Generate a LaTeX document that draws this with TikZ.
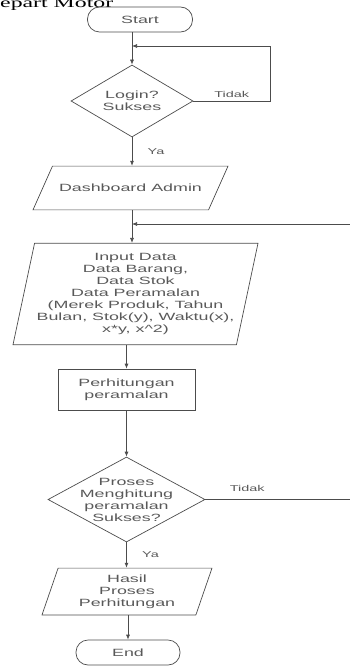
\documentclass[tikz,border=0pt]{standalone}
\usepackage{fontspec}
\setmainfont{Liberation Sans}[FakeStretch=1.7]
\newfontfamily\judulfont{Liberation Serif}[FakeStretch=1.7]
\usetikzlibrary{shapes.geometric,arrows.meta}

\tikzset{
  flowline/.style={draw=black!70, line width=0.7pt},
  arr/.style={flowline, -{Latex[length=5pt,width=4pt]}},
  box/.style={draw=black!70, line width=0.7pt, text=black!65, align=center, inner sep=0pt,
    font=\fontsize{10.5}{12}\selectfont},
  terminal/.style={box, rectangle, rounded corners=12pt, minimum height=25pt},
  decision/.style={box, diamond, shape aspect=1.8, inner sep=-8pt},
  io/.style={box, trapezium, trapezium stretches body},
  process/.style={box, rectangle},
  lbl/.style={text=black!65, font=\fontsize{8.5}{10}\selectfont}
}

\begin{document}
\begin{tikzpicture}[x=1pt,y=-1pt]
    \useasboundingbox (0,0) rectangle (350,666);

    \node[anchor=base west, inner sep=0pt, font={\judulfont\fontsize{14}{16}\selectfont}] (judul) at (0,8) {epart Motor};

    \node[terminal, minimum width=105pt] (start) at (140,19.5) {Start};
    \node[decision, minimum width=122pt, minimum height=72pt] (login) at (132,101) {Login?\\Sukses};
    \node[io, trapezium left angle=66, trapezium right angle=114, inner ysep=18pt, minimum width=195pt] (dash) at (130.5,188) {Dashboard Admin};
    \node[io, trapezium left angle=78, trapezium right angle=102, inner ysep=10pt, minimum width=245pt] (input) at (135.5,294)
        {Input Data\\Data Barang,\\Data Stok\\Data Peramalan\\(Merek Produk, Tahun\\Bulan, Stok(y), Waktu(x),\\x*y, x\textasciicircum 2)};
    \node[process, minimum width=137pt, minimum height=41pt] (proses) at (126.5,389.5) {Perhitungan\\peramalan};
    \node[decision, minimum width=157pt, minimum height=85pt] (cek) at (126.5,499.5) {Proses\\Menghitung\\peramalan\\Sukses?};
    \node[io, trapezium left angle=71, trapezium right angle=109, inner ysep=6.5pt, minimum width=170pt] (hasil) at (127,591.5) {Hasil\\Proses\\Perhitungan};
    \node[terminal, minimum width=104pt] (end) at (128,652.5) {End};

    \coordinate (balik1) at (270,46);
    \coordinate (balik2) at (350,224);

    \draw[arr] (start.south -| login.north) -- (login.north);
    \draw[arr] (login.east) -| node[lbl, pos=0.25, above] {Tidak} (balik1) -- (balik1 -| login.north);
    \draw[arr] (login.south) -- node[lbl, right=12pt] {Ya} (login.south |- dash.north);
    \draw[arr] (login.south |- dash.south) -- (login.south |- input.north);
    \draw[arr] (balik2) -- (balik2 -| login.south);
    \draw[arr] (input.south -| proses.north) -- (proses.north);
    \draw[arr] (proses) -- (cek);
    \draw[flowline] (cek.east) -- node[lbl, pos=0.29, above=4pt] {Tidak} (cek.east -| balik2);
    \draw[arr] (cek.south) -- node[lbl, right=12pt] {Ya} (cek.south |- hasil.north);
    \draw[arr] (hasil.south -| end.north) -- (end.north);

\end{tikzpicture}
\end{document}
